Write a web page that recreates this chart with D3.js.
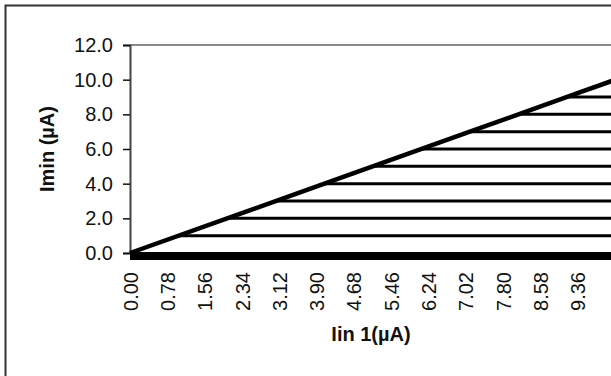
<!DOCTYPE html>
<html>
<head>
<meta charset="utf-8">
<script src="https://cdn.jsdelivr.net/npm/d3@7"></script>
<style>
  html, body { margin: 0; padding: 0; background: #fff; }
  svg { display: block; font-family: "Liberation Sans", Arial, sans-serif; }
</style>
</head>
<body>
<svg id="chart" width="611" height="376"></svg>
<script>
// Input current (category axis) and the Imin response line
const lineX = [0, 2.34, 4.68, 7.02, 9.36, 10.08];
const lineY = [0, 2.30, 4.61, 6.91, 9.22, 9.93];

// Constant Imin levels and the Iin 1 value where each level starts
const levels = [1, 2, 3, 4, 5, 6, 7, 8, 9];
const levelStart = [0.98, 2.03, 3.05, 4.06, 5.08, 6.09, 7.11, 8.13, 9.14];

// Axis ticks
const xTicks = [0, 0.78, 1.56, 2.34, 3.12, 3.90, 4.68, 5.46, 6.24, 7.02, 7.80, 8.58, 9.36];
const yTicks = [0, 2, 4, 6, 8, 10, 12];
const xMax = 10.08;

const svg = d3.select("#chart");
const plotLeft = 130, plotTop = 45, plotW = 482, plotH = 208;

// Chart area border
svg.append("rect")
  .attr("x", 5.5).attr("y", 5.5)
  .attr("width", 700).attr("height", 420)
  .attr("fill", "#fff").attr("stroke", "#333").attr("stroke-width", 2);

const x = d3.scaleLinear().domain([0, xMax]).range([plotLeft, plotLeft + plotW]);
const y = d3.scaleLinear().domain([0, 12]).range([plotTop + plotH, plotTop]);

// Plot area top edge
svg.append("line")
  .attr("x1", x(0)).attr("x2", x(xMax))
  .attr("y1", y(12)).attr("y2", y(12))
  .attr("stroke", "#8a8a8a").attr("stroke-width", 2);

// Y axis
const yAxis = svg.append("g")
  .attr("transform", `translate(${plotLeft},0)`)
  .call(d3.axisLeft(y).tickValues(yTicks).tickFormat(d3.format(".1f"))
    .tickSize(7).tickPadding(10));
yAxis.select(".domain").attr("stroke", "#444").attr("stroke-width", 2);
yAxis.selectAll(".tick line").attr("stroke", "#111").attr("stroke-width", 1.5);
yAxis.selectAll(".tick text")
  .attr("fill", "#111").style("font-size", "20px");

// X axis with vertical labels
const xAxis = svg.append("g")
  .attr("transform", `translate(0,${y(0)})`)
  .call(d3.axisBottom(x).tickValues(xTicks).tickFormat(d3.format(".2f")).tickSize(0));
xAxis.select(".domain").remove();
xAxis.selectAll(".tick text")
  .attr("transform", "rotate(-90)")
  .attr("x", -19).attr("y", 0).attr("dy", "0.36em")
  .style("text-anchor", "end")
  .attr("fill", "#111").style("font-size", "20px");

// Imin levels
svg.append("g").selectAll("line")
  .data(levels)
  .join("line")
  .attr("x1", (d, i) => x(levelStart[i]))
  .attr("x2", x(xMax))
  .attr("y1", d => y(d)).attr("y2", d => y(d))
  .attr("stroke", "#000").attr("stroke-width", 3);

// Zero level
svg.append("line")
  .attr("x1", x(0)).attr("x2", x(xMax))
  .attr("y1", y(0)).attr("y2", y(0))
  .attr("transform", "translate(0,3)")
  .attr("stroke", "#000").attr("stroke-width", 8);

// Response line
const pts = lineX.map((v, i) => [v, lineY[i]]);
svg.append("path")
  .datum(pts)
  .attr("fill", "none").attr("stroke", "#000").attr("stroke-width", 4.5)
  .attr("d", d3.line().x(d => x(d[0])).y(d => y(d[1])));

// Axis titles
svg.append("text")
  .attr("transform", `translate(47,${(y(0) + y(12)) / 2}) rotate(-90)`)
  .attr("dy", "0.35em")
  .attr("text-anchor", "middle")
  .style("font-size", "20px").style("font-weight", "bold").attr("fill", "#111")
  .text("Imin (µA)");

svg.append("text")
  .attr("x", (x(0) + x(xMax)) / 2).attr("y", 341)
  .attr("text-anchor", "middle")
  .style("font-size", "20px").style("font-weight", "bold").attr("fill", "#111")
  .text("Iin 1(µA)");
</script>
</body>
</html>
